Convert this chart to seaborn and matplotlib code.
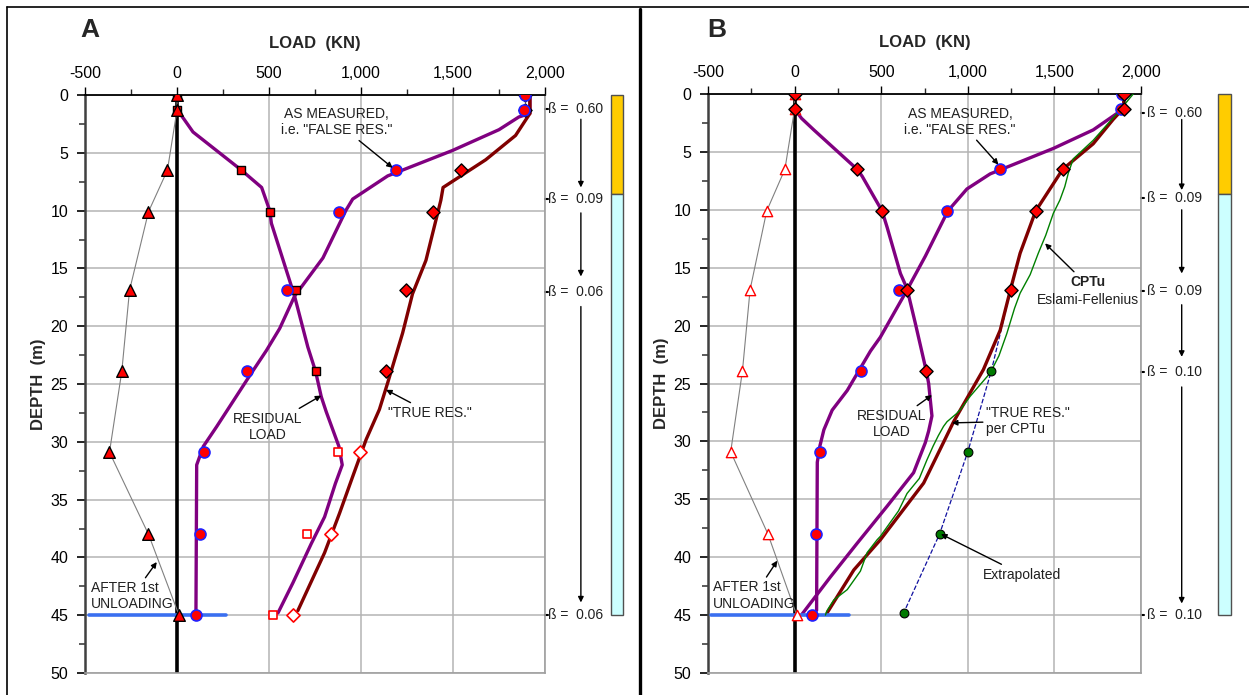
import matplotlib
matplotlib.use("Agg")
import matplotlib.pyplot as plt
import matplotlib.transforms as mtransforms
from matplotlib.patches import Rectangle
from matplotlib.lines import Line2D
from matplotlib.ticker import MultipleLocator
import seaborn as sns

sns.set_style("white")
plt.rcParams['font.family'] = ['Liberation Sans', 'DejaVu Sans']

# ---------------- data ----------------
GAGE_DEPTH = [0, 1.3, 6.5, 10.1, 16.9, 23.9, 30.9, 38.0, 45.0]
UNLOAD_A = [0, 0, -52, -155, -258, -300, -367, -155, 11]
UNLOAD_B = [0, 0, -56, -161, -257, -301, -369, -154, 12]
MEASURED = [1890, 1885, 1188, 882, 600, 381, 145, 126, 102]
RESID_A = [0, 0, 350, 504, 645, 753, 874, 706, 522]
TRUE_A = [1892, 1892, 1542, 1389, 1244, 1136, 997, 838, 630]
RESID_B = [0, 0, 358, 505, 648, 758]
TRUE_B = [1900, 1900, 1548, 1392, 1248]
EXTRAP_DEPTH = [23.9, 30.9, 38.0, 44.8]
EXTRAP_LOAD = [1136, 1000, 837, 630]
EXTRAP_LINE_DEPTH = [16.9, 23.9, 30.9, 38.0, 44.8]
EXTRAP_LINE_LOAD = [1248, 1136, 1000, 837, 630]

# curves (as drawn)
RES_LINE_A_LOAD = [0, 34, 87, 350, 460, 504, 513, 639, 711, 753, 784, 811, 880, 898, 861, 802, 730, 630, 549]
RES_LINE_A_DEPTH = [1.3, 2.0, 3.2, 6.5, 8.0, 10.0, 11.1, 17.4, 21.8, 23.9, 26.1, 27.4, 30.4, 32.0, 33.6, 36.5, 38.8, 42.2, 44.8]
MEAS_LINE_A_LOAD = [1918, 1918, 1858, 1750, 1497, 1145, 955, 919, 793, 639, 558, 486, 413, 378, 215, 143, 107, 103]
MEAS_LINE_A_DEPTH = [0, 1.6, 1.9, 3.0, 4.8, 7.0, 9.0, 9.95, 14.1, 17.4, 20.2, 22.1, 23.85, 24.7, 28.7, 30.4, 32.0, 44.7]
TRUE_LINE_A_LOAD = [1918, 1918, 1840, 1678, 1446, 1434, 1353, 1280, 1226, 1145, 1100, 1028, 955, 883, 802, 657]
TRUE_LINE_A_DEPTH = [0, 1.6, 3.5, 5.6, 8.0, 9.1, 14.3, 17.2, 20.6, 24.9, 27.2, 29.8, 33.0, 36.2, 39.6, 44.6]

RES_LINE_B_LOAD = [0, 40, 111, 361, 390, 505, 534, 611, 649, 697, 760, 774, 793, 774, 755, 687, 534, 361, 207, 44]
RES_LINE_B_DEPTH = [1.3, 2.1, 3.1, 6.5, 7.1, 10.1, 11.5, 15.5, 16.8, 19.8, 23.9, 25.0, 27.8, 29.1, 30.1, 32.7, 35.6, 38.8, 41.7, 44.9]
MEAS_LINE_B_LOAD = [1901, 1901, 1859, 1724, 1494, 1129, 995, 885, 755, 639, 495, 438, 304, 217, 169, 146, 131, 127]
MEAS_LINE_B_DEPTH = [0, 1.2, 1.7, 3.1, 4.7, 6.9, 8.2, 10.1, 14.0, 17.2, 21.0, 22.2, 25.6, 27.3, 29.0, 30.4, 31.8, 44.6]
TRUE_LINE_B_LOAD = [1901, 1901, 1839, 1724, 1548, 1392, 1302, 1248, 1187, 1090, 918, 745, 495, 342, 188]
TRUE_LINE_B_DEPTH = [0, 1.2, 2.2, 4.3, 6.5, 10.1, 13.75, 16.8, 20.4, 23.8, 28.3, 33.6, 38.5, 41.1, 44.8]
CPTU_LOAD = [1955, 1878, 1724, 1609, 1580, 1560, 1532, 1494, 1450, 1407, 1360, 1302, 1270, 1225, 1180, 1129,
             1014, 960, 935, 880, 860, 830, 800, 764, 720, 649, 600, 495, 476, 419, 380, 304, 226, 188, 178]
CPTU_DEPTH = [0, 1.4, 4.0, 5.6, 6.85, 8.0, 9.15, 10.3, 12.2, 13.75, 15.6, 17.2, 18.5, 20.7, 22.6, 24.1,
              26.1, 27.2, 27.6, 28.3, 28.7, 29.5, 30.4, 31.6, 33.2, 34.5, 36.0, 38.2, 38.5, 39.6, 41.2, 42.8, 43.7, 44.6, 45.0]

BETA_A_TEXT = ["ß =  0.60", "ß =  0.09", "ß =  0.06", "ß =  0.06"]
BETA_A_DEPTH = [1.2, 9.0, 17.0, 45.0]
BETA_B_TEXT = ["ß =  0.60", "ß =  0.09", "ß =  0.09", "ß =  0.10", "ß =  0.10"]
BETA_B_DEPTH = [1.6, 9.0, 17.0, 24.0, 45.0]
LAYER_TOP = [0, 8.6]
LAYER_BOT = [8.6, 45.0]

XTICKS = [-500, 0, 500, 1000, 1500, 2000]
XTICKLABELS = ["-500", "0", "500", "1,000", "1,500", "2,000"]

PURPLE = "#800080"
MAROON = "#800000"
RED = "#FF0000"
BLUE = "#3A6FF0"

fig = plt.figure(figsize=(12.49, 6.95), dpi=100)
W, H = 1249, 695
axA = fig.add_axes([85 / W, 1 - 673 / H, 460 / W, 578 / H])
axB = fig.add_axes([708 / W, 1 - 673 / H, 433 / W, 579 / H])


def setup(ax):
    ax.set_xlim(-500, 2000)
    ax.set_ylim(50, 0)
    ax.xaxis.tick_top()
    ax.xaxis.set_label_position('top')
    ax.set_xticks(XTICKS)
    ax.set_xticklabels(XTICKLABELS)
    ax.xaxis.set_minor_locator(MultipleLocator(250))
    ax.set_yticks(range(0, 51, 5))
    ax.yaxis.set_minor_locator(MultipleLocator(2.5))
    ax.tick_params(axis='x', which='major', top=True, bottom=False, direction='out', length=6,
                   width=1, pad=4, labelsize=11.5, colors='black')
    ax.tick_params(axis='x', which='minor', top=True, bottom=False, direction='out', length=4, width=1)
    ax.tick_params(axis='y', which='major', left=True, direction='out', length=6, width=1.2, pad=6,
                   labelsize=11.5, colors='black')
    ax.tick_params(axis='y', which='minor', left=True, direction='out', length=4, width=1.2, color='#404040')
    ax.set_xlabel("LOAD  (KN)", fontsize=12, fontweight='bold', labelpad=13)
    ax.set_ylabel("DEPTH  (m)", fontsize=12, fontweight='bold', labelpad=3)
    ax.grid(True, which='major', color='#B4B4B4', lw=1.1)
    ax.set_axisbelow(True)
    ax.spines['top'].set_color('black')
    ax.spines['top'].set_linewidth(1.3)
    ax.spines['left'].set_color('#404040')
    ax.spines['left'].set_linewidth(1.8)
    ax.spines['right'].set_color('#A0A0A0')
    ax.spines['bottom'].set_color('#A0A0A0')
    ax.spines['right'].set_linewidth(1.2)
    ax.spines['bottom'].set_linewidth(1.2)
    for s in ax.spines.values():
        s.set_visible(True)
    # zero line
    sns.lineplot(x=[0, 0], y=[0, 50], color='black', lw=2.6, ax=ax, sort=False, estimator=None, zorder=2)


def line(ax, x, y, color, lw, ls='-', zorder=3):
    sns.lineplot(x=x, y=y, color=color, lw=lw, ls=ls, ax=ax, sort=False, estimator=None,
                 zorder=zorder, legend=False)


def pts(ax, x, y, marker, s, face, edge, lw=1.0, zorder=5):
    sns.scatterplot(x=x, y=y, marker=marker, s=s, color=face, edgecolor=edge, linewidth=lw,
                    ax=ax, zorder=zorder, legend=False)


def note(ax, text, xy, xytext, ha='center', bold=False, size=10):
    ax.annotate(text, xy=xy, xytext=xytext, ha=ha, va='center', fontsize=size,
                fontweight='bold' if bold else 'normal', color='#202020',
                arrowprops=dict(arrowstyle='-|>', color='black', lw=1.0,
                                mutation_scale=8, shrinkA=0, shrinkB=0), zorder=8)


def beta(ax, texts, depths, xtext, xarrow, bar_x0, bar_x1, arrows):
    tr = mtransforms.blended_transform_factory(ax.transAxes, ax.transData)
    for t, d in zip(texts, depths):
        ax.text(xtext, d, t, transform=tr, fontsize=10, va='center', ha='left', color='#202020',
                clip_on=False)
        ax.plot([1.0, 1.006], [d, d], transform=tr, color='black', lw=1.5, clip_on=False)
    for y0, y1 in arrows:
        ax.annotate("", xy=(xarrow, y1), xytext=(xarrow, y0), xycoords=tr, textcoords=tr,
                    arrowprops=dict(arrowstyle='-|>', color='black', lw=1.0, mutation_scale=8,
                                    shrinkA=0, shrinkB=0), annotation_clip=False)
    cols = ['#FFCC00', '#CCFFFF']
    for top, bot, c in zip(LAYER_TOP, LAYER_BOT, cols):
        ax.add_patch(Rectangle((bar_x0, top), bar_x1 - bar_x0, bot - top, transform=tr,
                               facecolor=c, edgecolor='#505050', lw=1.0, clip_on=False))


# ---------------- Panel A ----------------
setup(axA)
line(axA, UNLOAD_A, GAGE_DEPTH, '#808080', 0.8)
line(axA, [-480, 269], [45, 45], BLUE, 2.6, zorder=4)
line(axA, RES_LINE_A_LOAD, RES_LINE_A_DEPTH, PURPLE, 2.4)
line(axA, MEAS_LINE_A_LOAD, MEAS_LINE_A_DEPTH, PURPLE, 2.4)
line(axA, TRUE_LINE_A_LOAD, TRUE_LINE_A_DEPTH, MAROON, 2.4)
pts(axA, RESID_A[:6], GAGE_DEPTH[:6], 's', 36, RED, 'black')
pts(axA, RESID_A[6:], GAGE_DEPTH[6:], 's', 36, 'white', RED, lw=1.2)
pts(axA, TRUE_A[:6], GAGE_DEPTH[:6], 'D', 45, RED, 'black')
pts(axA, TRUE_A[6:], GAGE_DEPTH[6:], 'D', 45, 'white', RED, lw=1.2)
pts(axA, MEASURED, GAGE_DEPTH, 'o', 62, RED, '#2020FF', lw=1.2)
pts(axA, UNLOAD_A, GAGE_DEPTH, '^', 70, RED, 'black', zorder=6)

note(axA, 'AS MEASURED,\ni.e. "FALSE RES."', xy=(1172, 6.3), xytext=(867, 2.35))
note(axA, 'RESIDUAL\nLOAD', xy=(784, 26.0), xytext=(493, 28.7))
note(axA, '"TRUE RES."', xy=(1136, 25.5), xytext=(1148, 27.5), ha='left')
note(axA, 'AFTER 1st\nUNLOADING', xy=(-110, 40.4), xytext=(-468, 43.35), ha='left')

beta(axA, BETA_A_TEXT, BETA_A_DEPTH, 1.0065, 1.078, 1.1435, 1.1696,
     [(2.1, 8.0), (10.2, 15.7), (18.3, 43.9)])

# ---------------- Panel B ----------------
setup(axB)
line(axB, UNLOAD_B, GAGE_DEPTH, '#808080', 0.8)
line(axB, [-484, 313], [45, 45], BLUE, 2.6, zorder=4)
line(axB, EXTRAP_LINE_LOAD, EXTRAP_LINE_DEPTH, '#1010A0', 0.9, ls='--')
line(axB, CPTU_LOAD, CPTU_DEPTH, '#008000', 1.0, zorder=4)
line(axB, RES_LINE_B_LOAD, RES_LINE_B_DEPTH, PURPLE, 2.4)
line(axB, MEAS_LINE_B_LOAD, MEAS_LINE_B_DEPTH, PURPLE, 2.4)
line(axB, TRUE_LINE_B_LOAD, TRUE_LINE_B_DEPTH, MAROON, 2.4)
pts(axB, UNLOAD_B, GAGE_DEPTH, '^', 55, 'white', RED, lw=1.0, zorder=4)
pts(axB, EXTRAP_LOAD, EXTRAP_DEPTH, 'o', 40, '#007A00', 'black', lw=0.8)
pts(axB, MEASURED, GAGE_DEPTH, 'o', 62, RED, '#2020FF', lw=1.2)
pts(axB, RESID_B, GAGE_DEPTH[:6], 'D', 45, RED, 'black', zorder=6)
pts(axB, TRUE_B, GAGE_DEPTH[:5], 'D', 45, RED, 'black', zorder=6)

note(axB, 'AS MEASURED,\ni.e. "FALSE RES."', xy=(1177, 6.1), xytext=(956, 2.4))
note(axB, 'RESIDUAL\nLOAD', xy=(793, 26.0), xytext=(559, 28.5))
note(axB, '"TRUE RES."\nper CPTu', xy=(908, 28.4), xytext=(1106, 28.25), ha='left')
note(axB, 'Extrapolated', xy=(845, 38.0), xytext=(1087, 41.5), ha='left')
note(axB, 'AFTER 1st\nUNLOADING', xy=(-100, 40.3), xytext=(-471, 43.3), ha='left')
axB.annotate('', xy=(1446, 12.9), xytext=(1613, 15.35),
             arrowprops=dict(arrowstyle='-|>', color='black', lw=1.0, mutation_scale=8,
                             shrinkA=0, shrinkB=0))
axB.text(1693, 16.2, 'CPTu', ha='center', va='center', fontsize=10, fontweight='bold', color='#202020')
axB.text(1693, 17.75, 'Eslami-Fellenius', ha='center', va='center', fontsize=10, color='#202020')

beta(axB, BETA_B_TEXT, BETA_B_DEPTH, 1.013, 1.094, 1.178, 1.208,
     [(2.2, 8.3), (10.0, 15.5), (18.2, 22.7), (25.3, 44.0)])

# ---------------- panel titles & frame ----------------
fig.text(80 / W, 1 - 30 / H, 'A', fontsize=19, fontweight='bold', va='center', ha='left')
fig.text(707 / W, 1 - 30 / H, 'B', fontsize=19, fontweight='bold', va='center', ha='left')
fig.add_artist(Line2D([7 / W, 1], [1 - 7 / H, 1 - 7 / H], color='black', lw=1.2))
fig.add_artist(Line2D([7 / W, 7 / W], [0, 1 - 7 / H], color='black', lw=1.2))
fig.add_artist(Line2D([640 / W, 640 / W], [0, 1 - 9 / H], color='black', lw=2.4))

fig.savefig("out.png", dpi=100)
